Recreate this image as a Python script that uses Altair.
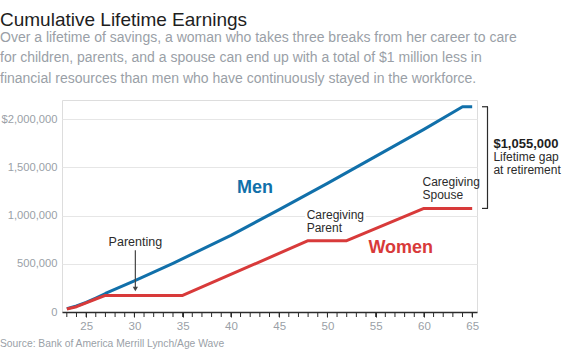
import altair as alt
import pandas as pd

# ---- data ----
men_age = [23, 24, 25, 26, 27, 30, 34, 40, 45, 50, 55, 60, 64, 65]
men_val = [35000, 62000, 100000, 145000, 192000, 322000, 505000, 795000,
           1062000, 1335000, 1615000, 1895000, 2130000, 2130000]
women_age = [23, 24, 25, 26, 27, 35, 48, 52, 60, 65]
women_val = [32000, 55000, 95000, 135000, 172000, 172000, 740000, 740000,
             1075000, 1075000]
y_ticks = [0, 500000, 1000000, 1500000, 2000000]
x_labels = [25, 30, 35, 40, 45, 50, 55, 60, 65]
x_minor = list(range(23, 66))

title = "Cumulative Lifetime Earnings"
subtitle = [
    "Over a lifetime of savings, a woman who takes three breaks from her career to care",
    "for children, parents, and a spouse can end up with a total of $1 million less in",
    "financial resources than men who have continuously stayed in the workforce.",
]
source = "Source: Bank of America Merrill Lynch/Age Wave"

BLUE = "#1170aa"
RED = "#d83a3a"
DARK = "#2b2b2b"
GRAY = "#9a9fa7"
FONT = "Liberation Sans"

men = pd.DataFrame({"age": men_age, "value": men_val})
women = pd.DataFrame({"age": women_age, "value": women_val})
minor = pd.DataFrame({"age": x_minor})

xscale = alt.Scale(domain=[22.5, 65.5], nice=False, zero=False)
yscale = alt.Scale(domain=[0, 2200000], nice=False)

xaxis = alt.Axis(values=x_labels, tickSize=5, tickColor=DARK, tickWidth=1, domainColor=DARK,
                 domainWidth=1.5, labelColor=GRAY, labelFontSize=11.5, labelPadding=3,
                 labelFont=FONT, grid=False, title=None, labelFlush=False)
yaxis = alt.Axis(values=y_ticks,
                 labelExpr="datum.value == 2000000 ? '$2,000,000' : format(datum.value, ',')",
                 grid=True, gridColor="#e6e6e6", gridWidth=1, domain=False, ticks=False,
                 labelColor=GRAY, labelFontSize=11.2, labelPadding=5, labelFont=FONT,
                 title=None)

men_line = alt.Chart(men).mark_line(color=BLUE, strokeWidth=3, strokeJoin="round").encode(
    x=alt.X("age:Q", scale=xscale, axis=xaxis), y=alt.Y("value:Q", scale=yscale, axis=yaxis))
women_line = alt.Chart(women).mark_line(color=RED, strokeWidth=3, strokeJoin="round").encode(
    x=alt.X("age:Q", scale=xscale), y=alt.Y("value:Q", scale=yscale))

# yearly minor ticks below the axis line
minor_ticks = alt.Chart(minor).mark_rule(color=DARK, strokeWidth=1).encode(
    x=alt.X("age:Q", scale=xscale), y=alt.value(212), y2=alt.value(217))

one = pd.DataFrame({"a": [0]})

def label(txt, age, val, size=12, weight="normal", color=DARK, align="left", lh=12.5):
    d = pd.DataFrame({"age": [age], "value": [val]})
    return alt.Chart(d).mark_text(text=txt, fontSize=size, fontWeight=weight, color=color,
                                  align=align, baseline="alphabetic", font=FONT,
                                  lineHeight=lh).encode(
        x=alt.X("age:Q", scale=xscale), y=alt.Y("value:Q", scale=yscale))

# white box behind "Caregiving Parent" to break the gridline
parent_bg = alt.Chart(one).mark_rect(color="white").encode(
    x=alt.value(243), x2=alt.value(304), y=alt.value(110), y2=alt.value(122))

men_lbl = label("Men", 42.5, 1230000, size=18, weight="bold", color=BLUE, align="center")
women_lbl = label("Women", 57.6, 608000, size=18, weight="bold", color=RED, align="center")
parenting = label("Parenting", 30.1, 687000, size=12.5, align="center")
parent_lbl = label(["Caregiving", "Parent"], 47.85, 961000, size=12, lh=12.6)
spouse_lbl = label(["Caregiving", "Spouse"], 59.85, 1305000, size=12, lh=12.5)
gap_val = label("$1,055,000", 67.2, 1700000, size=13, weight="bold", color="#1e1e1e")
gap_txt = label(["Lifetime gap", "at retirement"], 67.2, 1562000, size=12, lh=12.8)

# arrow for "Parenting"
arrow_d = pd.DataFrame({"age": [30.1], "value": [640000], "value2": [240000]})
arrow = alt.Chart(arrow_d).mark_rule(color="#444", strokeWidth=1.2).encode(
    x=alt.X("age:Q", scale=xscale), y=alt.Y("value:Q", scale=yscale), y2="value2:Q")
head_d = pd.DataFrame({"age": [30.1], "value": [238000]})
head = alt.Chart(head_d).mark_point(shape="triangle-down", filled=True, color="#444",
                                    size=28, opacity=1).encode(
    x=alt.X("age:Q", scale=xscale), y=alt.Y("value:Q", scale=yscale))

# bracket for the gap
br_d = pd.DataFrame({"top": [men_val[-1]], "bot": [women_val[-1]]})
br_v = alt.Chart(br_d).mark_rule(color=DARK, strokeWidth=1.2).encode(
    x=alt.value(425.5), y=alt.Y("top:Q", scale=yscale), y2="bot:Q")
br_t = alt.Chart(br_d).mark_rule(color=DARK, strokeWidth=1.2).encode(
    x=alt.value(420), x2=alt.value(426), y=alt.Y("top:Q", scale=yscale))
br_b = alt.Chart(br_d).mark_rule(color=DARK, strokeWidth=1.2).encode(
    x=alt.value(420), x2=alt.value(426), y=alt.Y("bot:Q", scale=yscale))

title_m = alt.Chart(one).mark_text(text=title, fontSize=19, color="#1e1e1e", align="left",
                                   baseline="alphabetic", font=FONT).encode(
    x=alt.value(-62), y=alt.value(-74))
sub_m = alt.Chart(one).mark_text(text=subtitle, fontSize=14, color=GRAY, align="left",
                                 baseline="alphabetic", font=FONT, lineHeight=20.3).encode(
    x=alt.value(-62), y=alt.value(-58))
src_m = alt.Chart(one).mark_text(text=source, fontSize=10.3, color=GRAY, align="left",
                                 baseline="alphabetic", font=FONT).encode(
    x=alt.value(-62), y=alt.value(247))

chart = alt.layer(
    men_line, women_line, minor_ticks, parent_bg, arrow, head, men_lbl, women_lbl, parenting,
    parent_lbl, spouse_lbl, gap_val, gap_txt, br_v, br_t, br_b, title_m, sub_m, src_m
).properties(
    width=415, height=212,
    autosize=alt.AutoSizeParams(type="none"),
    padding={"left": 62, "top": 100, "right": 90, "bottom": 41},
).configure_view(stroke=None).configure(background="white")

chart.save("out.html", embed_options={"renderer": "svg", "actions": False})
